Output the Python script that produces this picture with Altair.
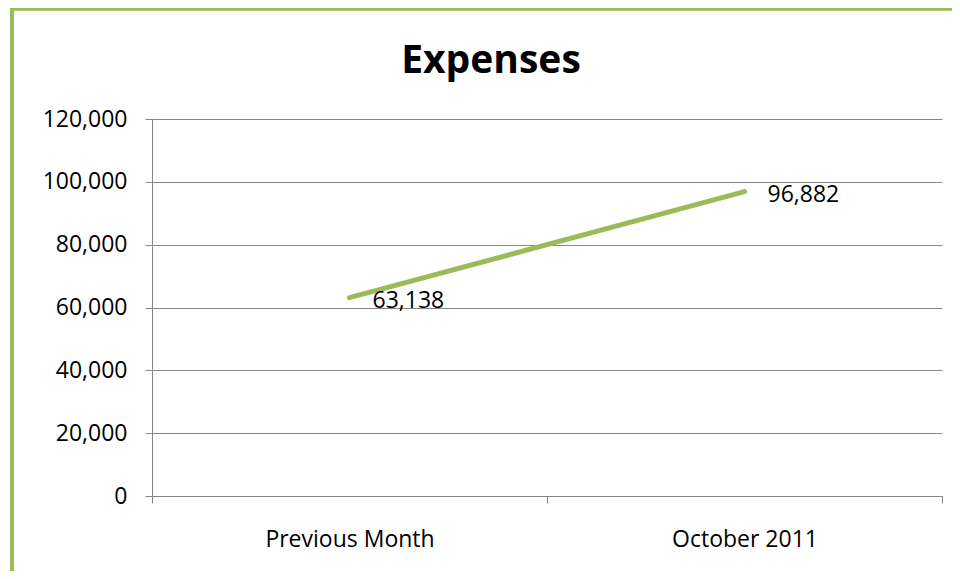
import altair as alt
import pandas as pd

categories = ["Previous Month", "October 2011"]
expenses = [63138, 96882]
y_ticks = [0, 20000, 40000, 60000, 80000, 100000, 120000]
chart_title = "Expenses"

df = pd.DataFrame({"period": categories, "expense": expenses,
                   "label": [f"{v:,}" for v in expenses]})
title_df = pd.DataFrame({"t": [chart_title]})

GREEN = "#9BBB59"
GRID = "#878787"
FONT = "Open Sans"

x = alt.X("period:N", sort=categories, title=None,
          scale=alt.Scale(paddingInner=0, paddingOuter=0),
          axis=alt.Axis(labelAngle=0, labelFontSize=23, labelColor="black", labelFont=FONT,
                        tickBand="extent", tickSize=7, tickColor=GRID, domainColor=GRID,
                        labelPadding=25, grid=False))
y = alt.Y("expense:Q", title=None,
          scale=alt.Scale(domain=[0, 120000], nice=False),
          axis=alt.Axis(values=y_ticks, format=",d", labelFontSize=23, labelColor="black",
                        labelFont=FONT, tickSize=7, tickColor=GRID, domainColor=GRID,
                        gridColor=GRID, labelPadding=18))

base = alt.Chart(df)
line = base.mark_line(color=GREEN, strokeWidth=5, strokeCap="round").encode(x=x, y=y)
text = base.mark_text(align="left", baseline="middle", dx=23, dy=3, fontSize=23,
                      font=FONT, color="black").encode(x=x, y=y, text="label:N")

title = alt.Chart(title_df).mark_text(align="center", baseline="alphabetic", fontSize=39,
                                      font=FONT, fontWeight="bold", color="black").encode(
    x=alt.value(339), y=alt.value(-46), text="t:N")

left_border = alt.Chart(df).mark_rule(color=GREEN, strokeWidth=4).encode(
    x=alt.value(-140), y=alt.value(-112), y2=alt.value(470))
top_border = alt.Chart(df).mark_rule(color=GREEN, strokeWidth=3).encode(
    x=alt.value(-142), x2=alt.value(810), y=alt.value(-110))

chart = alt.layer(line, text, title, left_border, top_border).properties(
    width=790, height=377,
    autosize=alt.AutoSizeParams(type="none"),
    padding={"left": 144, "top": 111, "right": 10, "bottom": 75},
).configure_view(stroke=None).configure_axisX(grid=False)

chart.save("out.html", embed_options={"renderer": "svg", "actions": False})
